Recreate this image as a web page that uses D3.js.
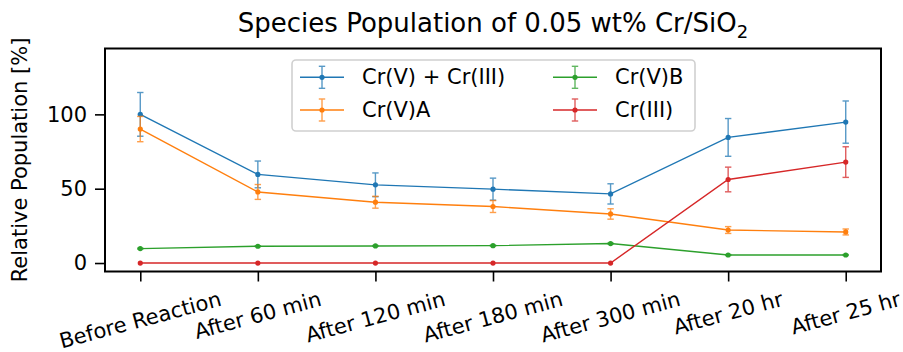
<!DOCTYPE html>
<html>
<head>
<meta charset="utf-8">
<script src="https://cdn.jsdelivr.net/npm/d3@7"></script>
<style>
  html, body { margin: 0; padding: 0; background: #fff; }
  text { font-family: "DejaVu Sans", sans-serif; fill: #000; }
</style>
</head>
<body>
<svg id="chart" width="903" height="352"></svg>
<script>
// Sampling stages along the x axis
const categories = ["Before Reaction", "After 60 min", "After 120 min", "After 180 min",
                    "After 300 min", "After 20 hr", "After 25 hr"];

// Relative population (%) of each species and its uncertainty
const totalValues = [100, 59.6, 52.6, 49.7, 46.5, 84.5, 94.8];
const totalErrors = [14.7, 9.0, 8.0, 7.4, 6.8, 12.7, 14.2];
const crVAValues = [90.1, 47.8, 40.9, 38.0, 33.0, 22.2, 20.9];
const crVAErrors = [8.5, 5.0, 4.0, 4.0, 3.5, 2.3, 2.0];
const crVBValues = [9.7, 11.3, 11.5, 11.7, 13.1, 5.4, 5.4];
const crVBErrors = [0.3, 0.3, 0.3, 0.3, 0.3, 0.3, 0.3];
const crIIIValues = [0, 0, 0, 0, 0, 56.2, 67.9];
const crIIIErrors = [0, 0, 0, 0, 0, 8.3, 10.3];

const seriesNames = ["Cr(V) + Cr(III)", "Cr(V)A", "Cr(V)B", "Cr(III)"];
const seriesColors = ["#1f77b4", "#ff7f0e", "#2ca02c", "#d62728"];
const yTicks = [0, 50, 100];

const series = [
  { name: seriesNames[0], color: seriesColors[0], values: totalValues, errors: totalErrors },
  { name: seriesNames[1], color: seriesColors[1], values: crVAValues, errors: crVAErrors },
  { name: seriesNames[2], color: seriesColors[2], values: crVBValues, errors: crVBErrors },
  { name: seriesNames[3], color: seriesColors[3], values: crIIIValues, errors: crIIIErrors }
];

const svg = d3.select("#chart");
const plot = { left: 105, right: 881, top: 48.5, bottom: 271.5 };
const FS = 21;

const x = d3.scalePoint().domain(categories).range([plot.left, plot.right]).padding(0.3);
const y = d3.scaleLinear().domain([-5.7, 144.3]).range([plot.bottom, plot.top]);

// Data layer: line, error bars with caps, point markers
const gData = svg.append("g");
const cap = 3.2;
series.forEach(s => {
  const g = gData.append("g");
  const pts = categories.map((c, i) => ({ c, v: s.values[i], e: s.errors[i] }));
  g.append("path")
    .datum(pts)
    .attr("fill", "none")
    .attr("stroke", s.color)
    .attr("stroke-width", 1.4)
    .attr("d", d3.line().x(d => x(d.c)).y(d => y(d.v)));
  const eb = g.selectAll("g.eb").data(pts.filter(d => d.e > 0)).join("g")
    .attr("stroke", s.color).attr("stroke-width", 1.4).attr("opacity", 0.75);
  eb.append("line")
    .attr("x1", d => x(d.c)).attr("x2", d => x(d.c))
    .attr("y1", d => y(d.v - d.e)).attr("y2", d => y(d.v + d.e));
  eb.append("line")
    .attr("x1", d => x(d.c) - cap).attr("x2", d => x(d.c) + cap)
    .attr("y1", d => y(d.v + d.e)).attr("y2", d => y(d.v + d.e));
  eb.append("line")
    .attr("x1", d => x(d.c) - cap).attr("x2", d => x(d.c) + cap)
    .attr("y1", d => y(d.v - d.e)).attr("y2", d => y(d.v - d.e));
  g.selectAll("circle").data(pts).join("circle")
    .attr("cx", d => x(d.c)).attr("cy", d => y(d.v)).attr("r", 2.6)
    .attr("fill", s.color);
});

// Frame
svg.append("rect")
  .attr("x", plot.left).attr("y", plot.top)
  .attr("width", plot.right - plot.left).attr("height", plot.bottom - plot.top)
  .attr("fill", "none").attr("stroke", "#000").attr("stroke-width", 2);

// Y axis
const yAxis = d3.axisLeft(y).tickValues(yTicks).tickSize(10).tickPadding(8).tickFormat(d3.format("d"));
const gy = svg.append("g").attr("transform", `translate(${plot.left},0)`).call(yAxis);
gy.select(".domain").remove();
gy.selectAll(".tick line").attr("stroke", "#000").attr("stroke-width", 1.6);
gy.selectAll(".tick text").style("font-size", FS + "px").style("font-family", "DejaVu Sans").attr("fill", "#000");

// X axis with rotated labels
const xAxis = d3.axisBottom(x).tickSize(10).tickFormat("");
const gx = svg.append("g").attr("transform", `translate(0,${plot.bottom})`).call(xAxis);
gx.select(".domain").remove();
gx.selectAll(".tick line").attr("stroke", "#000").attr("stroke-width", 1.6);
gx.selectAll(".tick text").remove();

const ang = 15 * Math.PI / 180;
const labelTop = plot.bottom + 10 + 7;
categories.forEach(c => {
  const t = svg.append("text")
    .attr("text-anchor", "middle")
    .attr("dominant-baseline", "central")
    .style("font-size", FS + "px")
    .text(c);
  const w = t.node().getComputedTextLength();
  const h = FS * 1.0;
  const cy = labelTop + (w * Math.sin(ang) + h * Math.cos(ang)) / 2;
  t.attr("transform", `translate(${x(c)},${cy}) rotate(-15)`);
});

// Axis title
svg.append("text")
  .attr("transform", `translate(20,${(plot.top + plot.bottom) / 2}) rotate(-90)`)
  .attr("text-anchor", "middle")
  .attr("dominant-baseline", "central")
  .style("font-size", FS + "px")
  .text("Relative Population [%]");

// Chart title
const title = svg.append("text")
  .attr("x", (plot.left + plot.right) / 2)
  .attr("y", 32)
  .attr("text-anchor", "middle")
  .style("font-size", "26px");
title.append("tspan").text("Species Population of 0.05 wt% Cr/SiO");
title.append("tspan").attr("dy", 6).style("font-size", "18px").text("2");

// Legend
const lg = svg.append("g");
lg.append("rect")
  .attr("x", 292).attr("y", 60).attr("width", 403).attr("height", 71)
  .attr("rx", 4).attr("fill", "#fff").attr("fill-opacity", 0.85)
  .attr("stroke", "#d0d0d0").attr("stroke-width", 1.6);
const colX = [300, 553];
const rowY = [77.3, 110];
series.forEach((s, i) => {
  const cx = colX[Math.floor(i / 2)];
  const cy = rowY[i % 2];
  const g = lg.append("g");
  g.append("line").attr("x1", cx).attr("x2", cx + 44).attr("y1", cy).attr("y2", cy)
    .attr("stroke", s.color).attr("stroke-width", 1.4);
  const eg = g.append("g").attr("stroke", s.color).attr("stroke-width", 1.4).attr("opacity", 0.75);
  eg.append("line").attr("x1", cx + 22).attr("x2", cx + 22).attr("y1", cy - 11).attr("y2", cy + 11);
  eg.append("line").attr("x1", cx + 22 - cap).attr("x2", cx + 22 + cap).attr("y1", cy - 11).attr("y2", cy - 11);
  eg.append("line").attr("x1", cx + 22 - cap).attr("x2", cx + 22 + cap).attr("y1", cy + 11).attr("y2", cy + 11);
  g.append("circle").attr("cx", cx + 22).attr("cy", cy).attr("r", 2.6).attr("fill", s.color);
  g.append("text").attr("x", cx + 62).attr("y", cy)
    .attr("dominant-baseline", "central")
    .style("font-size", FS + "px")
    .text(s.name);
});
</script>
</body>
</html>
